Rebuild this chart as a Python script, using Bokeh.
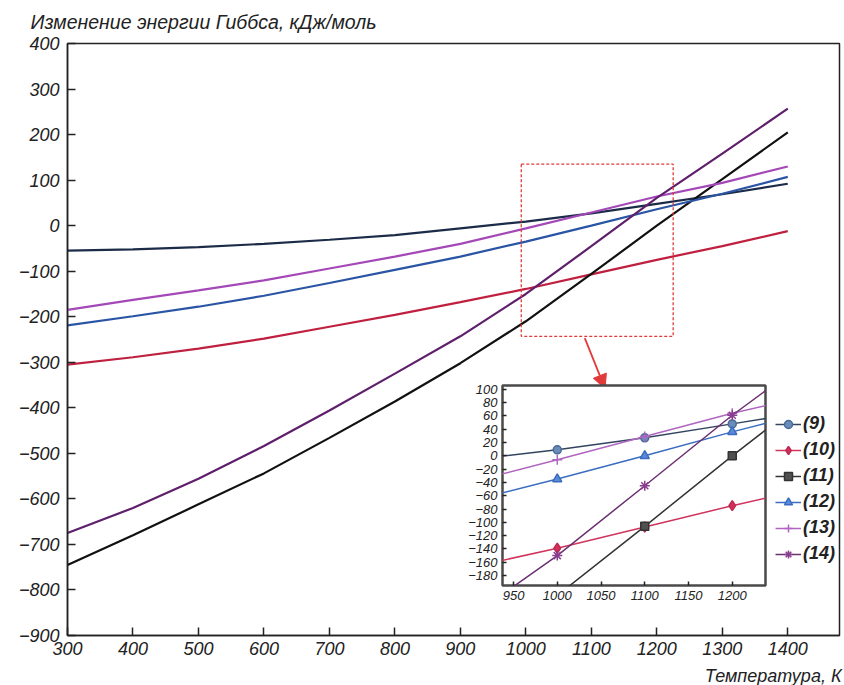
from bokeh.plotting import figure
from bokeh.models import (Range1d, FixedTicker, Title, Legend, LegendItem, Arrow, NormalHead)
from bokeh.embed import file_html
from bokeh.resources import INLINE

# ---- data ----
T = [300, 400, 500, 600, 700, 800, 900, 1000, 1100, 1200, 1300, 1400]
g9 = [-55, -52, -47, -40, -31, -21, -6, 9, 27, 48, 69, 92]
g10 = [-305, -289, -270, -248, -222, -196, -168, -139, -107, -75, -45, -12]
g11 = [-745, -680, -612, -544, -466, -386, -302, -210, -106, 0, 102, 205]
g12 = [-219, -199, -178, -154, -126, -97, -68, -35, 0, 36, 70, 107]
g13 = [-185, -163, -142, -120, -94, -68, -40, -6, 29, 64, 94, 130]
g14 = [-675, -620, -556, -484, -406, -325, -243, -150, -45, 61, 158, 257]

labels = ["(9)", "(10)", "(11)", "(12)", "(13)", "(14)"]
values = [g9, g10, g11, g12, g13, g14]

x_ticks = [300, 400, 500, 600, 700, 800, 900, 1000, 1100, 1200, 1300, 1400]
y_ticks = [-900, -800, -700, -600, -500, -400, -300, -200, -100, 0, 100, 200, 300, 400]
inset_x_ticks = [950, 1000, 1050, 1100, 1150, 1200]
inset_y_ticks = [-180, -160, -140, -120, -100, -80, -60, -40, -20, 0, 20, 40, 60, 80, 100]

zoom_x = [993, 1225]
zoom_y = [-243, 135]
arrow_x = [1090, 1121]
arrow_y = [-247, -358]

title_text = "Изменение энергии Гиббса, кДж/моль"
xlabel_text = "Температура, К"

# ---- styles ----
FONT = "Liberation Sans"
INK = "#222222"
RED = "#e03a3a"
main_colors = ["#1c2c48", "#c0203f", "#111111", "#2a55a5", "#a448b8", "#5e1f6b"]
inset_colors = ["#33445e", "#d0345c", "#333333", "#3a6cc0", "#b066c0", "#6a3070"]
markers = ["circle", "diamond", "square", "triangle", "cross", "asterisk"]
marker_fill = ["#6a8cb8", "#d0305a", "#505050", "#5a8ad8", "#b066c0", "#8a3c8e"]
marker_line = ["#4a6a98", "#c02a50", "#333333", "#3a6cc0", "#b066c0", "#8a3c8e"]
marker_size = [8, 10, 8, 9, 10, 10]


def lab(v):
    return str(v).replace("-", "\u2212")


def style_axis(ax, size, standoff, tick_in):
    ax.major_label_text_font = FONT
    ax.major_label_text_font_size = size
    ax.major_label_text_font_style = "italic"
    ax.major_label_text_color = INK
    ax.major_label_standoff = standoff
    ax.major_tick_in = tick_in
    ax.major_tick_out = 0
    ax.minor_tick_line_color = None
    ax.axis_line_color = INK
    ax.axis_line_width = 1.5
    ax.major_tick_line_color = INK
    ax.major_tick_line_width = 1.5


# ---- main figure ----
p = figure(frame_width=772, frame_height=592,
           x_range=Range1d(300, 1479), y_range=Range1d(-900, 400),
           output_backend="svg", toolbar_location=None,
           min_border_left=59, min_border_right=5, min_border_top=44, min_border_bottom=10)
p.styles = {"position": "absolute", "left": "8px", "top": "-2px"}
p.background_fill_color = "white"
p.border_fill_color = "white"
p.outline_line_color = INK
p.outline_line_width = 1.5
p.grid.visible = False

p.title.text = title_text
p.title.align = "left"
p.title.offset = -37
p.title.standoff = 21
p.title.text_font = FONT
p.title.text_font_size = "19.5px"
p.title.text_font_style = "italic"
p.title.text_color = INK

p.xaxis.ticker = FixedTicker(ticks=x_ticks, minor_ticks=[])
p.yaxis.ticker = FixedTicker(ticks=y_ticks, minor_ticks=[])
p.yaxis.major_label_overrides = {v: lab(v) for v in y_ticks}
style_axis(p.xaxis[0], "18px", 6, 8)
style_axis(p.yaxis[0], "18px", 8, 8)

xt = Title(text=xlabel_text, align="right", offset=-2, standoff=12,
           text_font=FONT, text_font_size="18px", text_font_style="italic", text_color=INK)
p.add_layout(xt, "below")

for vals, col in zip(values, main_colors):
    p.line(T, vals, line_color=col, line_width=2.2)

p.quad(left=[zoom_x[0]], right=[zoom_x[1]], bottom=[zoom_y[0]], top=[zoom_y[1]],
       fill_color=None, line_color=RED, line_dash="3 2", line_width=1.3)
p.add_layout(Arrow(end=NormalHead(size=14, fill_color=RED, line_color=RED),
                   x_start=arrow_x[0], y_start=arrow_y[0], x_end=arrow_x[1], y_end=arrow_y[1],
                   line_color=RED, line_width=1.8))

# ---- inset figure ----
q = figure(frame_width=263, frame_height=200,
           x_range=Range1d(937.4, 1238), y_range=Range1d(-195, 105.7),
           output_backend="svg", toolbar_location=None,
           min_border_left=50, min_border_right=75, min_border_top=5, min_border_bottom=25)
q.styles = {"position": "absolute", "left": "452px", "top": "380px"}
q.background_fill_color = "white"
q.border_fill_color = None
q.border_fill_alpha = 0
q.outline_line_color = "#4a4a4a"
q.outline_line_width = 2.5
q.grid.visible = False
q.xaxis.ticker = FixedTicker(ticks=inset_x_ticks, minor_ticks=[])
q.yaxis.ticker = FixedTicker(ticks=inset_y_ticks, minor_ticks=[])
q.yaxis.major_label_overrides = {v: lab(v) for v in inset_y_ticks}
style_axis(q.xaxis[0], "13px", 5, 4)
style_axis(q.yaxis[0], "13px", 5, 4)
q.xaxis.axis_line_color = None
q.yaxis.axis_line_color = None

items = []
for i, vals in enumerate(values):
    lr = q.line(T, vals, line_color=inset_colors[i], line_width=1.5)
    sr = q.scatter(T, vals, marker=markers[i], size=marker_size[i],
                   fill_color=marker_fill[i], line_color=marker_line[i], line_width=1.5)
    items.append(LegendItem(label=labels[i], renderers=[lr, sr]))

legend = Legend(items=items, location=(10, 21), glyph_width=26, glyph_height=20,
                label_height=20, spacing=5, padding=0, margin=0, label_standoff=2,
                label_text_font=FONT, label_text_font_size="18px",
                label_text_font_style="bold italic", label_text_color=INK,
                border_line_color=None, background_fill_alpha=0)
q.add_layout(legend, "right")

open("out.html", "w").write(file_html([p, q], INLINE))
